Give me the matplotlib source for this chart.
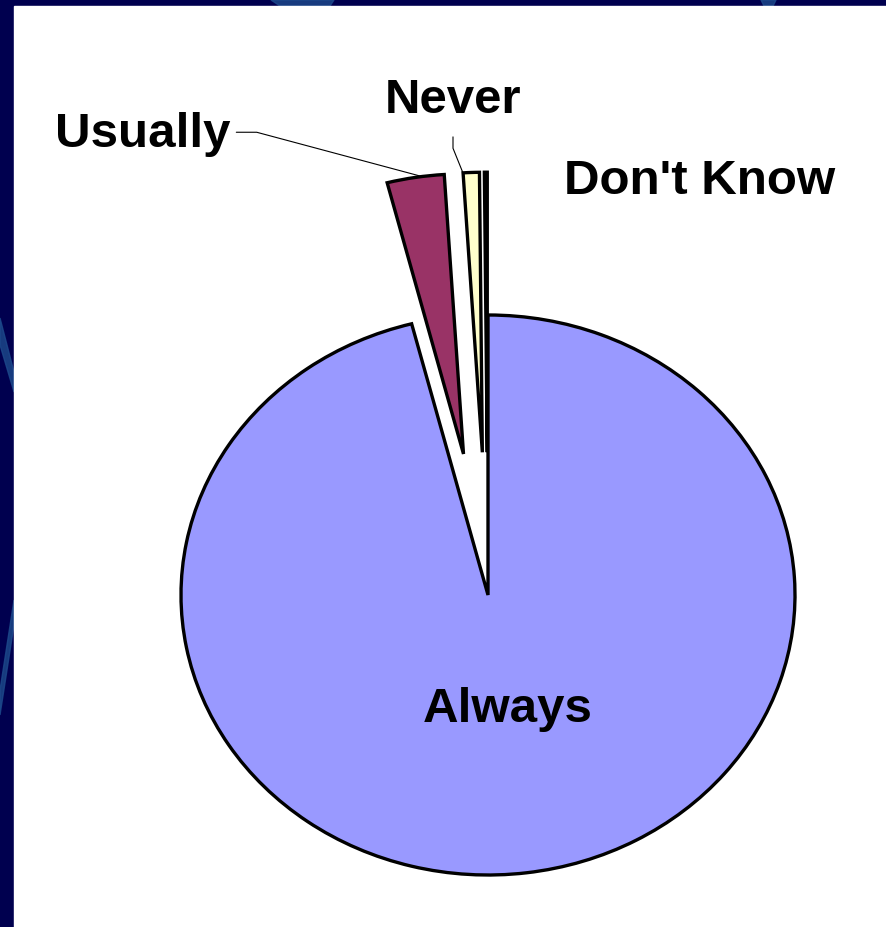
import matplotlib.pyplot as plt
from matplotlib.patches import Rectangle, Polygon

labels = ["Always", "Usually", "Never", "Don't Know"]
values = [96.0, 3.0, 0.85, 0.15]
colors = ["#9999FF", "#993366", "#FFFFCC", "#CCFFFF"]
explode = [0.0, 0.51, 0.51, 0.51]

W, H = 887, 927
fig = plt.figure(figsize=(W / 100, H / 100), dpi=100)
fig.patch.set_facecolor("#00004f")

# light streaks in the dark frame
for pts in [[(0, 318), (14, 372), (14, 392), (0, 345)],
            [(0, 690), (14, 600), (14, 625), (0, 715)],
            [(271, 0), (334, 0), (330, 6), (280, 6)],
            [(761, 0), (776, 0), (773, 6), (764, 6)]]:
    fig.patches.append(Polygon([(x / W, 1 - y / H) for x, y in pts], closed=True,
                               transform=fig.transFigure, color="#1d4a8c", alpha=0.8,
                               zorder=-2))
fig.patches.append(Rectangle((14 / W, 0), 1 - 14 / W, 1 - 6 / H, transform=fig.transFigure,
                             color="white", zorder=-1))

ax = fig.add_axes([0, 0, 1, 1])
ax.set_facecolor("none")
ax.axis("off")

# pie centre at (488, 595) px, radii 307 x 280 px
cx, cy, rx, ry = 488, 595, 307, 280


def px(x, y):
    return (x - cx) / rx, (cy - y) / ry


wedges, _ = ax.pie(values, colors=colors, explode=explode, startangle=90,
                   counterclock=False, radius=1.0,
                   wedgeprops=dict(edgecolor="black", linewidth=2.4, clip_on=False))
ax.set_aspect("auto")
ax.set_xlim(-cx / rx, (W - cx) / rx)
ax.set_ylim((cy - H) / ry, cy / ry)

font = dict(family="Liberation Sans", fontweight="bold", fontsize=35.5, color="black")

ax.text(*px(508, 722), "Always", ha="center", va="baseline", **font)
ax.text(*px(700, 194), "Don't Know", ha="center", va="baseline", **font)

ax.annotate("Usually", xy=px(420, 176), xytext=px(143, 147), ha="center", va="baseline",
            arrowprops=dict(arrowstyle="-", lw=0.8, color="black", relpos=(1.0, 0.55),
                            shrinkA=2, shrinkB=0,
                            connectionstyle="angle,angleA=0,angleB=-15,rad=0"), **font)
ax.annotate("Never", xy=px(463, 173), xytext=px(453, 113), ha="center", va="baseline",
            arrowprops=dict(arrowstyle="-", lw=0.8, color="black", relpos=(0.5, 0.0),
                            shrinkA=8, shrinkB=0,
                            connectionstyle="angle,angleA=90,angleB=-68,rad=0"), **font)

fig.savefig("out.png", dpi=100, facecolor=fig.get_facecolor())
